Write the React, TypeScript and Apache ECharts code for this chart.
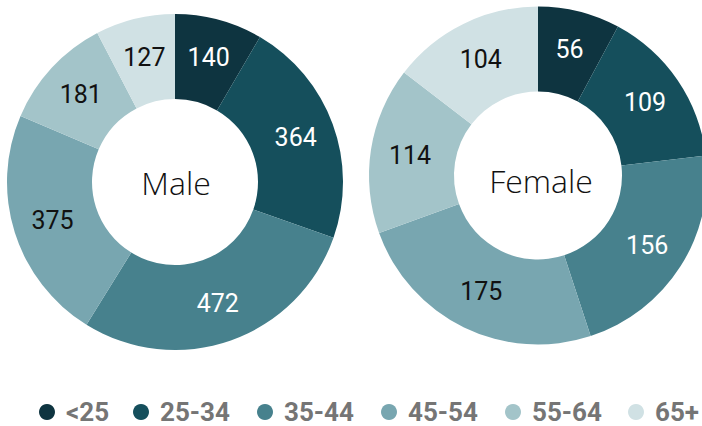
import React, { useEffect, useRef } from "react";
import * as echarts from "echarts";

const categories = ["<25", "25-34", "35-44", "45-54", "55-64", "65+"];
const maleValues = [140, 364, 472, 375, 181, 127];
const femaleValues = [56, 109, 156, 175, 114, 104];
const colors = ["#0e3440", "#154f5c", "#47818d", "#78a6b0", "#a3c4c9", "#d0e1e4"];
const labelColors = ["#ffffff", "#ffffff", "#ffffff", "#111111", "#111111", "#111111"];
const groups = ["Male", "Female"];
const legendLefts = [39, 133, 257, 381, 505, 628];

export default function App() {
  const ref = useRef<HTMLDivElement>(null);
  useEffect(() => {
    if (!ref.current) return;
    const chart = echarts.init(ref.current, null, { renderer: "svg" });
    const mk = (vals: number[]) =>
      categories.map((c, i) => ({
        name: c,
        value: vals[i],
        itemStyle: { color: colors[i] },
        label: { color: labelColors[i] },
      }));
    const baseSeries = {
      type: "pie",
      startAngle: 90,
      clockwise: true,
      label: {
        show: true,
        position: "inside",
        formatter: "{c}",
        fontFamily: "Roboto",
        fontSize: 25,
      },
      labelLine: { show: false },
      itemStyle: { borderWidth: 0 },
      emphasis: { disabled: true },
    };
    chart.setOption({
      animation: false,
      legend: categories.map((c, i) => ({
        data: [c],
        left: legendLefts[i],
        top: 398,
        padding: 0,
        icon: "circle",
        itemWidth: 28,
        itemHeight: 16,
        selectedMode: false,
        textStyle: {
          fontFamily: "Roboto",
          fontWeight: "bold",
          fontSize: 26,
          lineHeight: 28,
          color: "#757575",
        },
      })),
      graphic: [
        {
          type: "text",
          x: 176,
          y: 182,
          style: {
            text: groups[0],
            fontFamily: "Open Sans",
            fontWeight: 300,
            fontSize: 32,
            fill: "#111111",
            align: "center",
            verticalAlign: "middle",
          },
        },
        {
          type: "text",
          x: 541,
          y: 180,
          style: {
            text: groups[1],
            fontFamily: "Open Sans",
            fontWeight: 300,
            fontSize: 32,
            fill: "#111111",
            align: "center",
            verticalAlign: "middle",
          },
        },
      ],
      series: [
        { ...baseSeries, name: groups[0], center: [175, 182], radius: [83, 168], data: mk(maleValues) },
        { ...baseSeries, name: groups[1], center: [538, 175.5], radius: [84, 169], data: mk(femaleValues) },
      ],
    });
    return () => chart.dispose();
  }, []);
  return (
    <div
      ref={ref}
      style={{ position: "absolute", left: 0, top: 0, width: 702, height: 426, background: "#ffffff" }}
    />
  );
}
